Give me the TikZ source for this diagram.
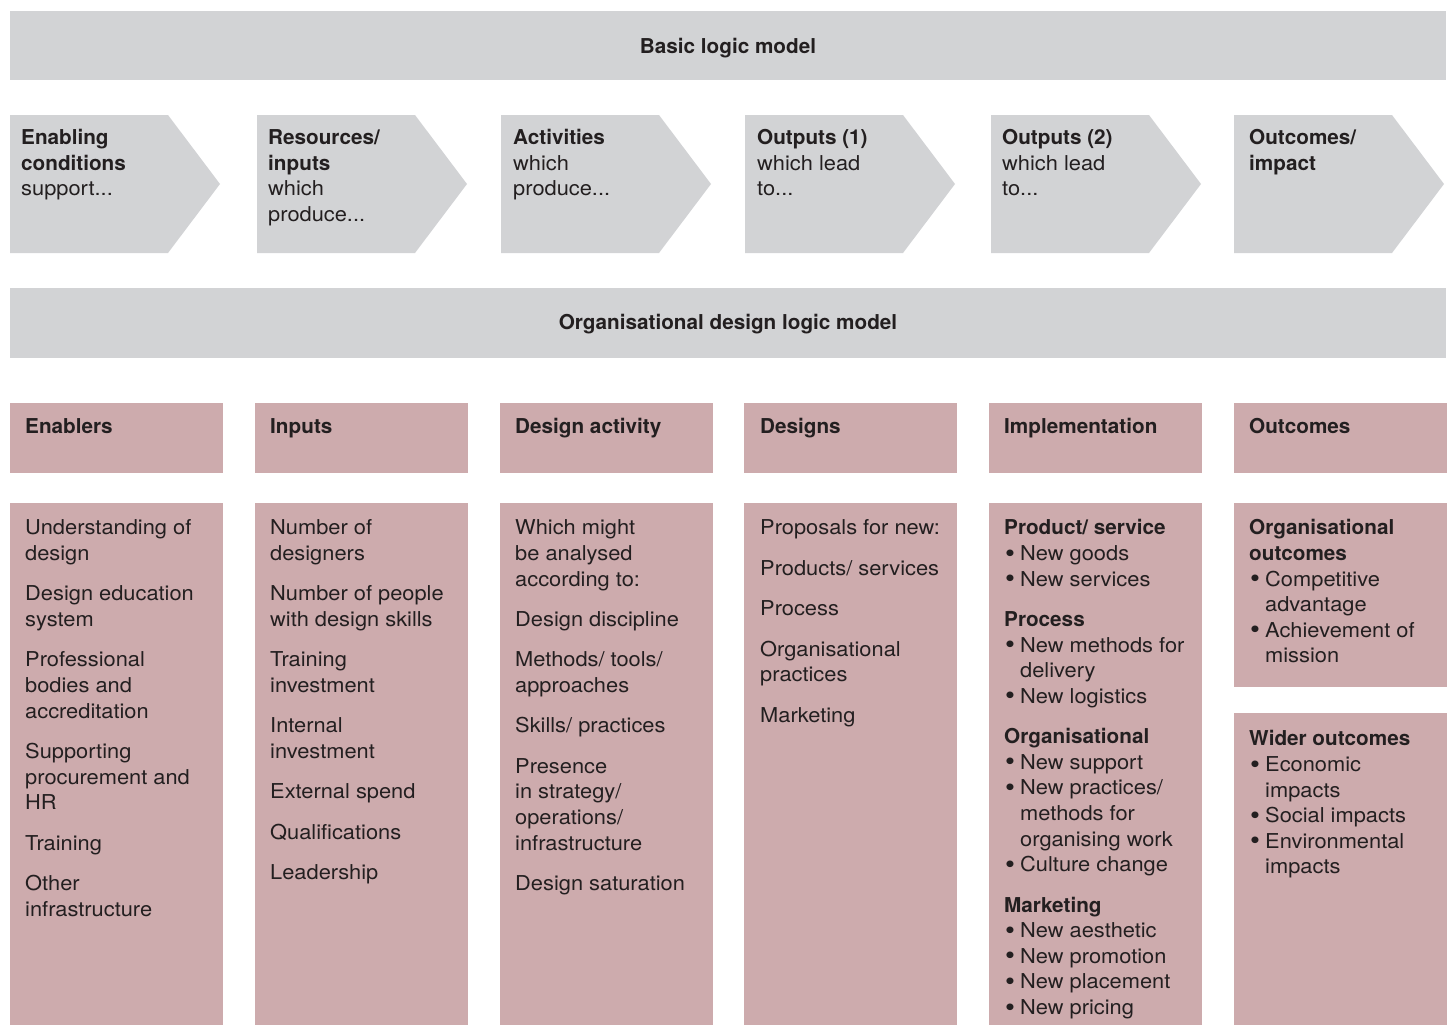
\documentclass[tikz,border=0pt]{standalone}
\usepackage{fontspec}
\usepackage{graphicx}
\setmainfont{TeX Gyre Heros}[FakeStretch=1.065, BoldFeatures={FakeStretch=1.01}]
\definecolor{bandgrey}{HTML}{D2D3D5}
\definecolor{boxpink}{HTML}{CDABAD}
\definecolor{ink}{HTML}{231F20}
\newcommand\bul{\makebox[16pt][l]{\hspace*{1pt}\raisebox{-1.6pt}{\scalebox{1.3}{\textbullet}}}}
\newcommand\ind{\hspace*{16pt}}
\tikzset{
  band/.style={fill=bandgrey},
  pinkbox/.style={fill=boxpink},
  basefont/.style={font=\fontsize{20.5}{25.6}\selectfont, text=ink, inner sep=0pt},
  bandtitle/.style={basefont, font=\fontsize{20.5}{25.6}\selectfont\bfseries, anchor=base},
  headtitle/.style={basefont, font=\fontsize{20.5}{25.6}\selectfont\bfseries, anchor=base west},
  chevtext/.style={basefont, align=left, anchor=north west},
  bodytext/.style={basefont, align=left, anchor=north west},
}
\newcommand\gap{\\[14.8pt]}
\begin{document}
\begin{tikzpicture}[x=1pt,y=-1pt]
\useasboundingbox (0,0) rectangle (1454,1025);
% top band
\fill[band] (10,11) rectangle (1446,80);
\node[bandtitle] (basic) at (728,53.5) {Basic logic model};
% chevrons
\foreach \L in {10,257,501,745,991,1234}{
  \fill[band] (\L,115) -- (\L+158,115) -- (\L+210,184) -- (\L+158,253) -- (\L,253) -- cycle;
}
\node[chevtext] (c1) at (21,126.5) {\strut\textbf{Enabling}\\\textbf{conditions}\\support...};
\node[chevtext] (c2) at (268,126.5) {\strut\textbf{Resources/}\\\textbf{inputs}\\which\\produce...};
\node[chevtext] (c3) at (513,126.5) {\strut\textbf{Activities}\\which\\produce...};
\node[chevtext] (c4) at (757,126.5) {\strut\textbf{Outputs (1)}\\which lead\\to...};
\node[chevtext] (c5) at (1002,126.5) {\strut\textbf{Outputs (2)}\\which lead\\to...};
\node[chevtext] (c6) at (1249,126.5) {\strut\textbf{Outcomes/}\\\textbf{impact}};
% second band
\fill[band] (10,288) rectangle (1446,358);
\node[bandtitle] (org) at (728,329.5) {Organisational design logic model};
% header boxes and body boxes
\foreach \L in {10,255,500,744,989,1234}{
  \fill[pinkbox] (\L,403) rectangle (\L+212.5,473);
}
\foreach \L in {10,255,500,744,989}{
  \fill[pinkbox] (\L,503) rectangle (\L+212.5,1025);
}
\fill[pinkbox] (1234,503) rectangle (1446.5,687);
\fill[pinkbox] (1234,713) rectangle (1446.5,1025);
\node[headtitle] (h1) at (25,433) {Enablers};
\node[headtitle] (h2) at (270,433) {Inputs};
\node[headtitle] (h3) at (515,433) {Design activity};
\node[headtitle] (h4) at (760,433) {Designs};
\node[headtitle] (h5) at (1004,433) {Implementation};
\node[headtitle] (h6) at (1249,433) {Outcomes};
% bodies
\node[bodytext] (b1) at (25,516.7) {\strut Understanding of\\design\gap
  Design education\\system\gap
  Professional\\bodies and\\accreditation\gap
  Supporting\\procurement and\\HR\gap
  Training\gap
  Other\\infrastructure};
\node[bodytext] (b2) at (270,516.7) {\strut Number of\\designers\gap
  Number of people\\with design skills\gap
  Training\\investment\gap
  Internal\\investment\gap
  External spend\gap
  Qualifications\gap
  Leadership};
\node[bodytext] (b3) at (515,516.7) {\strut Which might\\be analysed\\according to:\gap
  Design discipline\gap
  Methods/ tools/\\approaches\gap
  Skills/ practices\gap
  Presence\\in strategy/\\operations/\\infrastructure\gap
  Design saturation};
\node[bodytext] (b4) at (760,516.7) {\strut Proposals for new:\gap
  Products/ services\gap
  Process\gap
  Organisational\\practices\gap
  Marketing};
\node[bodytext] (b5) at (1004,516.7) {\strut\textbf{Product/ service}\\
  \bul New goods\\
  \bul New services\gap
  \textbf{Process}\\
  \bul New methods for\\
  \ind delivery\\
  \bul New logistics\gap
  \textbf{Organisational}\\
  \bul New support\\
  \bul New practices/\\
  \ind methods for\\
  \ind organising work\\
  \bul Culture change\gap
  \textbf{Marketing}\\
  \bul New aesthetic\\
  \bul New promotion\\
  \bul New placement\\
  \bul New pricing};
\node[bodytext] (b6) at (1249,516.7) {\strut\textbf{Organisational}\\
  \textbf{outcomes}\\
  \bul Competitive\\
  \ind advantage\\
  \bul Achievement of\\
  \ind mission};
\node[bodytext] (b7) at (1249,727.7) {\strut\textbf{Wider outcomes}\\
  \bul Economic\\
  \ind impacts\\
  \bul Social impacts\\
  \bul Environmental\\
  \ind impacts};
\end{tikzpicture}
\end{document}
